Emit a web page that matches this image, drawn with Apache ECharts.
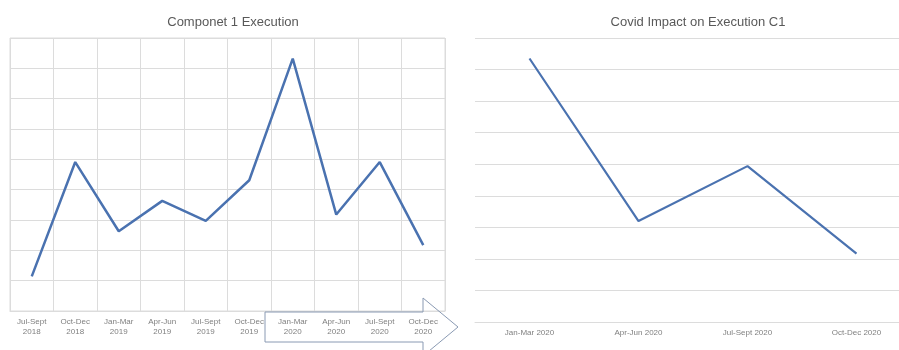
<!DOCTYPE html>
<html>
<head>
<meta charset="utf-8">
<script src="https://cdn.jsdelivr.net/npm/echarts@6/dist/echarts.min.js"></script>
<style>
html,body{margin:0;padding:0;background:#fff;}
#chart{width:899px;height:350px;}
</style>
</head>
<body>
<div id="chart"></div>
<script>
var leftCategories = ['Jul-Sept\n2018','Oct-Dec\n2018','Jan-Mar\n2019','Apr-Jun\n2019','Jul-Sept\n2019','Oct-Dec\n2019','Jan-Mar\n2020','Apr-Jun\n2020','Jul-Sept\n2020','Oct-Dec\n2020'];
var leftValues = [1.14, 4.91, 2.63, 3.63, 2.97, 4.31, 8.32, 3.18, 4.91, 2.17];
var rightCategories = ['Jan-Mar 2020','Apr-Jun 2020','Jul-Sept 2020','Oct-Dec 2020'];
var rightValues = [8.35, 3.20, 4.94, 2.17];
var leftTitle = 'Componet 1 Execution';
var rightTitle = 'Covid Impact on Execution C1';

var FONT = 'Liberation Sans';
var GRID_C = '#dcdcdc';
var LINE_C = '#4a72b0';
var LABEL_C = '#808080';

var chart = echarts.init(document.getElementById('chart'), null, {renderer: 'canvas'});
chart.setOption({
  animation: false,
  backgroundColor: '#ffffff',
  title: [
    {text: leftTitle, left: 228, top: 11, textAlign: 'center',
     textStyle: {fontFamily: FONT, fontSize: 13, fontWeight: 'normal', color: '#595959'}},
    {text: rightTitle, left: 693, top: 11, textAlign: 'center',
     textStyle: {fontFamily: FONT, fontSize: 13, fontWeight: 'normal', color: '#595959'}}
  ],
  grid: [
    {left: 10, right: 454, top: 38, bottom: 39, show: true, borderColor: GRID_C, borderWidth: 1, outerBoundsMode: 'none'},
    {left: 475, width: 436, top: 38, bottom: 28, outerBoundsMode: 'none'}
  ],
  xAxis: [
    {type: 'category', gridIndex: 0, data: leftCategories, boundaryGap: true,
     axisLine: {show: true, lineStyle: {color: GRID_C}},
     axisTick: {show: false},
     splitLine: {show: true, lineStyle: {color: GRID_C, width: 1}},
     axisLabel: {fontFamily: FONT, fontSize: 8, color: LABEL_C, lineHeight: 10, margin: 6, interval: 0}},
    {type: 'category', gridIndex: 1, data: rightCategories, boundaryGap: true,
     axisLine: {show: true, lineStyle: {color: GRID_C}},
     axisTick: {show: false},
     splitLine: {show: false},
     axisLabel: {fontFamily: FONT, fontSize: 8, color: LABEL_C, margin: 7, interval: 0}}
  ],
  yAxis: [
    {type: 'value', gridIndex: 0, min: 0, max: 9, interval: 1,
     axisLine: {show: false}, axisTick: {show: false}, axisLabel: {show: false},
     splitLine: {show: true, lineStyle: {color: GRID_C, width: 1}}},
    {type: 'value', gridIndex: 1, min: 0, max: 9, interval: 1,
     axisLine: {show: false}, axisTick: {show: false}, axisLabel: {show: false},
     splitLine: {show: true, lineStyle: {color: GRID_C, width: 1}}}
  ],
  series: [
    {type: 'line', xAxisIndex: 0, yAxisIndex: 0, data: leftValues, symbol: 'none',
     lineStyle: {color: LINE_C, width: 2.5}},
    {type: 'line', xAxisIndex: 1, yAxisIndex: 1, data: rightValues, symbol: 'none',
     lineStyle: {color: LINE_C, width: 2.2}}
  ],
  graphic: [
    {type: 'polygon', silent: true, z: 100,
     shape: {points: [[265,312],[423,312],[423,298],[458,327],[423,356],[423,342],[265,342]]},
     style: {fill: 'none', stroke: '#8a9ab3', lineWidth: 1}}
  ]
});
</script>
</body>
</html>
